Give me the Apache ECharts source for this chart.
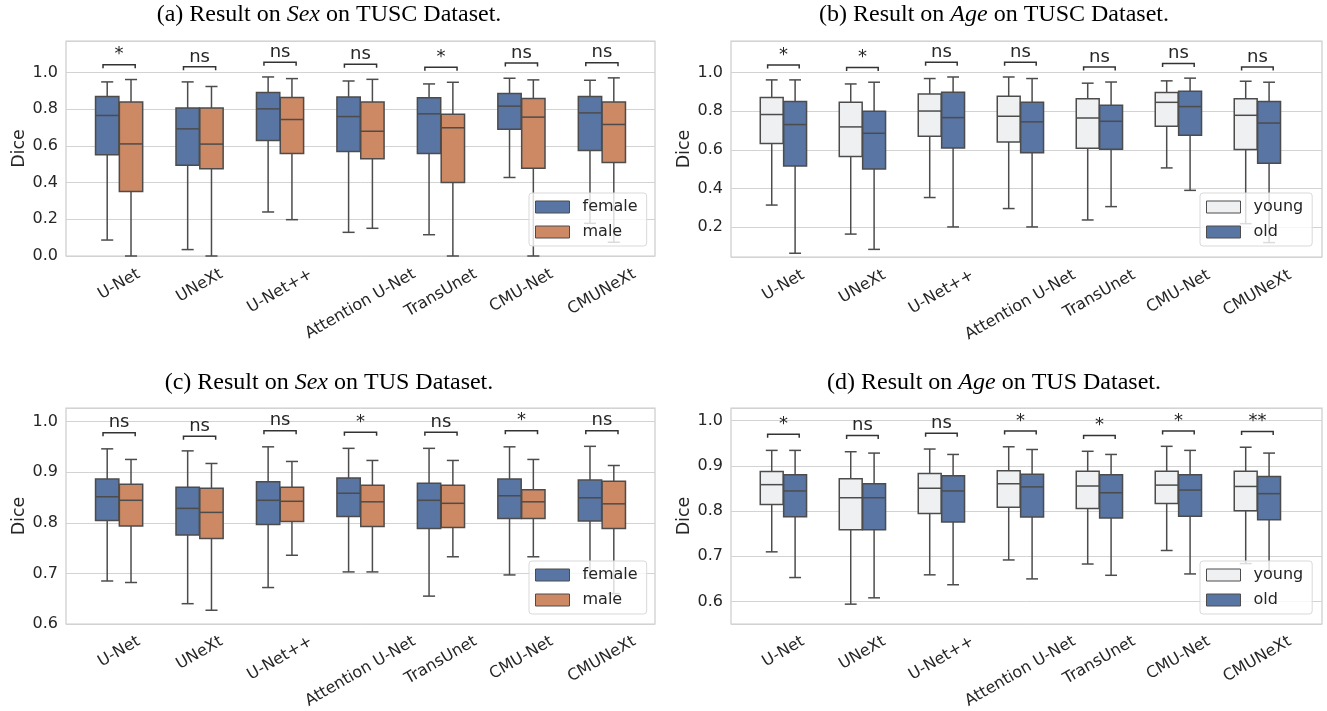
<!DOCTYPE html>
<html>
<head>
<meta charset="utf-8">
<script src="https://cdn.jsdelivr.net/npm/echarts@6/dist/echarts.min.js"></script>
<style>html,body{margin:0;padding:0;background:#fff}#c{width:1327px;height:711px}</style>
</head>
<body>
<div id="c"></div>
<script>
// ---------------- DATA ----------------
const categories = ['U-Net', 'UNeXt', 'U-Net++', 'Attention U-Net', 'TransUnet', 'CMU-Net', 'CMUNeXt'];
// each box: [min, Q1, median, Q3, max]
const tuscSexFemale = [[0.087,0.552,0.766,0.869,0.949],[0.035,0.495,0.693,0.807,0.949],[0.240,0.630,0.802,0.891,0.976],[0.129,0.570,0.760,0.867,0.954],[0.116,0.559,0.775,0.862,0.938],[0.428,0.691,0.817,0.886,0.969],[0.178,0.575,0.780,0.869,0.958]];
const tuscSexMale   = [[0.000,0.352,0.611,0.840,0.962],[0.000,0.475,0.610,0.807,0.924],[0.198,0.559,0.744,0.864,0.967],[0.151,0.530,0.680,0.840,0.963],[0.000,0.401,0.699,0.773,0.947],[0.000,0.479,0.757,0.858,0.960],[0.075,0.510,0.717,0.840,0.971]];
const tuscAgeYoung  = [[0.315,0.633,0.783,0.871,0.962],[0.165,0.566,0.719,0.846,0.941],[0.354,0.671,0.801,0.889,0.969],[0.297,0.641,0.774,0.877,0.977],[0.238,0.609,0.765,0.864,0.945],[0.507,0.722,0.846,0.897,0.957],[0.219,0.602,0.779,0.864,0.955]];
const tuscAgeOld    = [[0.066,0.517,0.731,0.850,0.962],[0.086,0.502,0.686,0.800,0.950],[0.202,0.610,0.767,0.898,0.977],[0.202,0.586,0.745,0.846,0.969],[0.307,0.603,0.748,0.831,0.951],[0.391,0.676,0.824,0.903,0.971],[0.121,0.531,0.739,0.850,0.950]];
const tusSexFemale  = [[0.684,0.804,0.851,0.886,0.946],[0.639,0.775,0.828,0.870,0.942],[0.671,0.796,0.844,0.881,0.950],[0.702,0.812,0.858,0.888,0.947],[0.654,0.788,0.844,0.878,0.947],[0.696,0.808,0.853,0.886,0.950],[0.690,0.803,0.849,0.884,0.951]];
const tusSexMale    = [[0.681,0.793,0.844,0.876,0.925],[0.626,0.768,0.820,0.868,0.917],[0.735,0.802,0.842,0.870,0.921],[0.702,0.792,0.841,0.874,0.923],[0.732,0.790,0.838,0.874,0.923],[0.732,0.808,0.841,0.865,0.925],[0.659,0.788,0.837,0.882,0.913]];
const tusAgeYoung   = [[0.709,0.814,0.858,0.887,0.934],[0.593,0.758,0.829,0.871,0.931],[0.658,0.794,0.850,0.883,0.937],[0.691,0.808,0.860,0.889,0.942],[0.682,0.805,0.855,0.888,0.932],[0.712,0.816,0.857,0.888,0.943],[0.683,0.800,0.854,0.888,0.941]];
const tusAgeOld     = [[0.652,0.787,0.844,0.880,0.934],[0.607,0.758,0.829,0.860,0.928],[0.636,0.775,0.844,0.878,0.925],[0.649,0.786,0.853,0.881,0.936],[0.657,0.784,0.840,0.880,0.925],[0.660,0.788,0.846,0.880,0.934],[0.666,0.780,0.838,0.876,0.928]];
// significance labels and bracket heights
const sigA = ['*','ns','ns','ns','*','ns','ns'];
const sigB = ['*','*','ns','ns','ns','ns','ns'];
const sigC = ['ns','ns','ns','*','ns','*','ns'];
const sigD = ['*','ns','ns','*','*','*','**'];
const bracketA = [1.043,1.031,1.056,1.045,1.029,1.052,1.054];
const bracketB = [1.039,1.026,1.053,1.053,1.029,1.047,1.029];
const bracketC = [0.978,0.971,0.982,0.979,0.979,0.982,0.982];
const bracketD = [0.970,0.967,0.972,0.977,0.967,0.977,0.976];
// y tick labels
const ticksA = [0.0,0.2,0.4,0.6,0.8,1.0];
const ticksB = [0.2,0.4,0.6,0.8,1.0];
const ticksC = [0.6,0.7,0.8,0.9,1.0];
const ticksD = [0.6,0.7,0.8,0.9,1.0];

// ---------------- STYLE ----------------
const FONT = '"DejaVu Sans", sans-serif';
const TXT = '#262626';
const LINE = '#4c4c4c';
const BLUE = '#5875a3', ORANGE = '#cc8963', LIGHT = '#eff0f2';
const BOX_W = 0.29, CAP_W = 0.15, OFF = 0.148, BR_HALF = 0.2;
const XMARGIN = 0.66; // category-axis margin, in bands (matplotlib xlim -0.66..6.66)

const panels = [
  {grid:{left:66, top:41, width:589, height:215}, y:[0, 1.172], step:0.2, ticks:ticksA, g1:['female', BLUE, tuscSexFemale], g2:['male', ORANGE, tuscSexMale], sig:sigA, br:bracketA, legend:{left:529, top:193}, title:['(a) Result on ', 'Sex', ' on TUSC Dataset.'], tx:329, ty:15},
  {grid:{left:731, top:41, width:591, height:216}, y:[0.0466, 1.163], step:0.2, ticks:ticksB, g1:['young', LIGHT, tuscAgeYoung], g2:['old', BLUE, tuscAgeOld], sig:sigB, br:bracketB, legend:{left:1200, top:193}, title:['(b) Result on ', 'Age', ' on TUSC Dataset.'], tx:994, ty:15},
  {grid:{left:66, top:408, width:589, height:216}, y:[0.6, 1.027], step:0.1, ticks:ticksC, g1:['female', BLUE, tusSexFemale], g2:['male', ORANGE, tusSexMale], sig:sigC, br:bracketC, legend:{left:529, top:561}, title:['(c) Result on ', 'Sex', ' on TUS Dataset.'], tx:329, ty:383},
  {grid:{left:731, top:408, width:591, height:216}, y:[0.5504, 1.028], step:0.1, ticks:ticksD, g1:['young', LIGHT, tusAgeYoung], g2:['old', BLUE, tusAgeOld], sig:sigD, br:bracketD, legend:{left:1200, top:561}, title:['(d) Result on ', 'Age', ' on TUS Dataset.'], tx:994, ty:383}
];

// x label rich styles: emulate matplotlib centred rotated labels
const XL_FONT = 16, ROT = 30, XPAD = 9;
const ctx = document.createElement('canvas').getContext('2d');
ctx.font = XL_FONT + 'px "DejaVu Sans"';
const xRich = {};
categories.forEach((c, i) => {
  const w = ctx.measureText(c).width;
  const h = XL_FONT * 1.15;
  const s = Math.sin(ROT * Math.PI / 180), co = Math.cos(ROT * Math.PI / 180);
  const H = w * s + h * co;
  const D = XPAD + H / 2;
  xRich['c' + i] = {fontSize: XL_FONT, fontFamily: FONT, color: TXT, lineHeight: h, padding: [2 * D * co, D, 0, 0]};
});

function boxItem(offset, fill) {
  return function (params, api) {
    const i = api.value(0);
    const v = [1, 2, 3, 4, 5].map(k => api.value(k));
    const band = api.size([1, 0])[0];
    const P = (dx, y) => { const c = api.coord([i, y]); return [c[0] + dx * band, c[1]]; };
    const ln = (a, b) => ({type: 'line', shape: {x1: a[0], y1: a[1], x2: b[0], y2: b[1]}, style: {stroke: LINE, lineWidth: 1.5}});
    const o = offset;
    const tl = P(o - BOX_W / 2, v[3]), br = P(o + BOX_W / 2, v[1]);
    return {type: 'group', children: [
      ln(P(o, v[3]), P(o, v[4])),
      ln(P(o, v[1]), P(o, v[0])),
      ln(P(o - CAP_W / 2, v[4]), P(o + CAP_W / 2, v[4])),
      ln(P(o - CAP_W / 2, v[0]), P(o + CAP_W / 2, v[0])),
      {type: 'rect', shape: {x: tl[0], y: tl[1], width: br[0] - tl[0], height: br[1] - tl[1]}, style: {fill: fill, stroke: LINE, lineWidth: 1.5}},
      ln(P(o - BOX_W / 2, v[2]), P(o + BOX_W / 2, v[2]))
    ]};
  };
}

function bracketItem(labels) {
  return function (params, api) {
    const i = api.value(0), h = api.value(1);
    const band = api.size([1, 0])[0];
    const c = api.coord([i, h]);
    const a = [c[0] - BR_HALF * band, c[1]], b = [c[0] + BR_HALF * band, c[1]];
    const t = 3.5;
    return {type: 'group', children: [
      {type: 'polyline', shape: {points: [[a[0], a[1] + t], [a[0], a[1]], [b[0], b[1]], [b[0], b[1] + t]]}, style: {stroke: '#333333', lineWidth: 1.5, fill: null}},
      {type: 'text', x: c[0], y: c[1] - 1, style: {text: labels[params.dataIndex], font: '18px ' + FONT, fill: TXT, align: 'center', verticalAlign: 'bottom', textAlign: 'center', textVerticalAlign: 'bottom'}}
    ]};
  };
}

const option = {backgroundColor: '#fff', animation: false, grid: [], xAxis: [], yAxis: [], series: [], legend: [], graphic: []};

// outer grids (frame, y axis, gridlines)
panels.forEach((p, k) => {
  option.grid.push(Object.assign({show: true, borderColor: '#cccccc', borderWidth: 1.2, backgroundColor: '#fff'}, p.grid));
  option.xAxis.push({type: 'value', gridIndex: k, show: false, min: 0, max: 1});
  option.yAxis.push({
    type: 'value', gridIndex: k, min: p.y[0], max: p.y[1], minInterval: p.step, maxInterval: p.step,
    axisLine: {show: false}, axisTick: {show: false},
    splitLine: {show: true, lineStyle: {color: '#d3d3d3', width: 1}},
    axisLabel: {customValues: p.ticks, formatter: v => v.toFixed(1), fontSize: 16, fontFamily: FONT, color: TXT, margin: 8, showMinLabel: true, showMaxLabel: true},
    name: 'Dice', nameLocation: 'middle', nameRotate: 90, nameGap: 38,
    nameTextStyle: {fontSize: 17.5, fontFamily: FONT, color: TXT}
  });
});
// inner grids (category bands) inset so that the axis runs from -0.66 to 6.66
panels.forEach((p, k) => {
  const n = categories.length;
  const band = p.grid.width / (n - 1 + 2 * XMARGIN);
  const inset = (XMARGIN - 0.5) * band;
  option.grid.push({show: false, left: p.grid.left + inset, top: p.grid.top, width: band * n, height: p.grid.height});
  const gi = 4 + k;
  option.xAxis.push({
    type: 'category', gridIndex: gi, data: categories, boundaryGap: true,
    axisLine: {show: false}, axisTick: {show: false}, splitLine: {show: false},
    axisLabel: {interval: 0, rotate: ROT, margin: 0, align: 'center', verticalAlign: 'middle',
      formatter: (v, i) => '{c' + categories.indexOf(v) + '|' + v + '}', rich: xRich}
  });
  option.yAxis.push({type: 'value', gridIndex: gi, show: false, min: p.y[0], max: p.y[1], splitLine: {show: false}});
  [[p.g1, -OFF], [p.g2, OFF]].forEach(([g, off]) => {
    option.series.push({
      type: 'custom', name: g[0], xAxisIndex: gi, yAxisIndex: gi,
      itemStyle: {color: g[1]},
      data: g[2].map((v, i) => [i].concat(v)),
      encode: {x: 0, y: [1, 2, 3, 4, 5]},
      renderItem: boxItem(off, g[1]), z: 2
    });
  });
  option.series.push({
    type: 'custom', name: 'sig' + k, xAxisIndex: gi, yAxisIndex: gi,
    data: p.br.map((h, i) => [i, h]), encode: {x: 0, y: 1},
    renderItem: bracketItem(p.sig), z: 3
  });
  option.legend.push({
    orient: 'vertical', left: p.legend.left, top: p.legend.top, selectedMode: false,
    padding: [6, 9, 6, 6], itemGap: 9, itemWidth: 34, itemHeight: 12,
    backgroundColor: 'rgba(255,255,255,0.8)', borderColor: '#d9d9d9', borderWidth: 1, borderRadius: 3,
    textStyle: {fontSize: 16, fontFamily: FONT, color: TXT, padding: [0, 0, 0, 8]},
    icon: 'rect',
    data: [p.g1, p.g2].map(g => ({name: g[0], icon: 'rect', itemStyle: {color: g[1], borderColor: LINE, borderWidth: 1}}))
  });
  option.graphic.push({
    type: 'text', x: p.tx, y: p.ty, z: 10,
    style: {
      text: '{n|' + p.title[0] + '}{i|' + p.title[1] + '}{n|' + p.title[2] + '}',
      rich: {n: {fontFamily: '"Liberation Serif", serif', fontSize: 24, fill: '#000', color: '#000'},
             i: {fontFamily: '"Liberation Serif", serif', fontSize: 24, fontStyle: 'italic', fill: '#000', color: '#000'}},
      align: 'center', verticalAlign: 'middle', textAlign: 'center', textVerticalAlign: 'middle'
    }
  });
});

const chart = echarts.init(document.getElementById('c'), null, {renderer: 'canvas'});
chart.setOption(option);
</script>
</body>
</html>
